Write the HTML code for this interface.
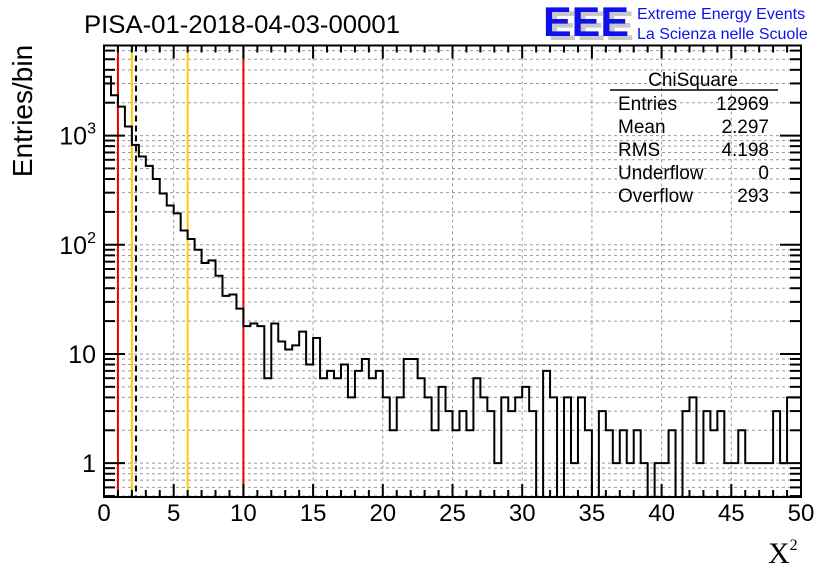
<!DOCTYPE html>
<html><head><meta charset="utf-8"><style>
body{margin:0;background:#fff}
svg{display:block;font-family:"Liberation Sans",Arial,sans-serif}
</style></head><body>
<svg id="c" width="836" height="572" viewBox="0 0 836 572">
<text x="84" y="33" font-size="25" textLength="316" lengthAdjust="spacingAndGlyphs">PISA-01-2018-04-03-00001</text>
<g>
<text x="548" y="40" font-size="42" font-weight="bold" fill="#c8c8c8" textLength="86" lengthAdjust="spacingAndGlyphs">EEE</text>
<text x="543" y="36" font-size="42" font-weight="bold" fill="#1010ee" textLength="86" lengthAdjust="spacingAndGlyphs">EEE</text>
<text x="637" y="19" font-size="16" fill="#1010ee">Extreme Energy Events</text>
<text x="637" y="39" font-size="16" fill="#1010ee">La Scienza nelle Scuole</text>
</g>
<text transform="translate(32,111) rotate(-90)" text-anchor="middle" font-size="28">Entries/bin</text>
<text x="768" y="563" font-size="30" font-family="Liberation Serif,serif">X<tspan font-size="16" dy="-13">2</tspan></text>
<g id="grid"></g><g id="lines"></g><g id="hist"></g><g id="axes"></g>
<g font-size="19">
<text x="693" y="86" text-anchor="middle">ChiSquare</text>
<line x1="610" y1="90" x2="778" y2="90" stroke="#000" stroke-width="1.5"/>
<text x="618" y="110">Entries</text><text x="769" y="110" text-anchor="end">12969</text>
<text x="618" y="133">Mean</text><text x="769" y="133" text-anchor="end">2.297</text>
<text x="618" y="156">RMS</text><text x="769" y="156" text-anchor="end">4.198</text>
<text x="618" y="179">Underflow</text><text x="769" y="179" text-anchor="end">0</text>
<text x="618" y="202">Overflow</text><text x="769" y="202" text-anchor="end">293</text>
</g>
</svg>
<script>
const counts=[3460,2340,1840,1210,822,643,528,400,295,229,194,135,113,90,68,72,52,34,35,26,
18,19,18,6,19,13,11,12,16,8,14,6,7,6,8,4,7,9,6,7,
4,2,4,9,9,6,4,2,5,3,2,3,2,6,4,3,1,4,3,4,
5,3,0,7,4,0,4,1,4,2,0,3,2,1,2,1,2,1,0,1,
1,2,0,3,4,1,3,2,3,1,1,2,1,1,1,1,3,1,4,4];
const xTicks=[0,5,10,15,20,25,30,35,40,45,50];
const refLines=[1,2,6,10];
const refColors=["#ee0000","#ffcc00","#ffcc00","#ee0000"];
const meanValue=2.297;
const binWidth=0.5;
const X0=104,X1=801,Y0=45.5,Y1=497;
const xmin=0,xmax=50,ymin=0.49,ymax=6680;
const sx=v=>X0+(v-xmin)/(xmax-xmin)*(X1-X0);
const sy=v=>{if(v<=ymin)return Y1;const l=Math.log10;return Y1-(l(v)-l(ymin))/(l(ymax)-l(ymin))*(Y1-Y0);};
const NS="http://www.w3.org/2000/svg";
function mk(t,a,p){const e=document.createElementNS(NS,t);for(const k in a)e.setAttribute(k,a[k]);p.appendChild(e);return e;}
const grid=document.getElementById('grid'),lines=document.getElementById('lines'),hist=document.getElementById('hist'),axes=document.getElementById('axes');
for(const t of xTicks){if(t===xmin||t===xmax)continue;
const g=mk('line',{x1:sx(t),x2:sx(t),y1:Y0,y2:Y1,stroke:'#999','stroke-width':1,'stroke-dasharray':'3,3'},grid);

}
for(let d=-1;d<=3;d++)for(let m=1;m<=9;m++){const v=m*Math.pow(10,d);if(v<ymin||v>ymax)continue;
const g=mk('line',{x1:X0,x2:X1,y1:sy(v),y2:sy(v),stroke:'#999','stroke-width':1,'stroke-dasharray':'3,3'},grid);

}
refLines.forEach((v,i)=>{const l=mk('line',{x1:sx(v),x2:sx(v),y1:Y0,y2:Y1,stroke:refColors[i],'stroke-width':2},lines);

});
const ml=mk('line',{x1:sx(meanValue),x2:sx(meanValue),y1:Y0,y2:Y1,stroke:'#000','stroke-width':2,'stroke-dasharray':'6,4'},lines);


let d='M'+sx(0)+','+sy(counts[0]);
counts.forEach((c,i)=>{const xa=sx(i*binWidth),xb=sx((i+1)*binWidth);d+=' L'+xa+','+sy(c)+' L'+xb+','+sy(c);});
const hp=mk('path',{d:d,fill:'none',stroke:'#000','stroke-width':2},hist);


const fr=mk('rect',{x:X0,y:Y0,width:X1-X0,height:Y1-Y0,fill:'none',stroke:'#000','stroke-width':2},axes);


for(let t=xmin;t<=xmax;t++){const maj=t%5===0,L=maj?13:7,x=sx(t);
mk('line',{x1:x,x2:x,y1:Y1,y2:Y1-L,stroke:'#000','stroke-width':2},axes);
mk('line',{x1:x,x2:x,y1:Y0,y2:Y0+L,stroke:'#000','stroke-width':2},axes);}
xTicks.forEach(t=>{const tx=mk('text',{x:sx(t),y:521,'text-anchor':'middle','font-size':24},axes);tx.textContent=t;

});
for(let dd=-1;dd<=3;dd++)for(let m=1;m<=9;m++){const v=m*Math.pow(10,dd);if(v<ymin||v>ymax)continue;
const L=m===1?21:11,y=sy(v);
mk('line',{x1:X0,x2:X0+L,y1:y,y2:y,stroke:'#000','stroke-width':2},axes);
mk('line',{x1:X1,x2:X1-L,y1:y,y2:y,stroke:'#000','stroke-width':2},axes);}
const yl=[[1,'1',''],[10,'10',''],[100,'10','2'],[1000,'10','3']];
yl.forEach(([v,b,s])=>{const tx=mk('text',{x:96,y:sy(v)+9,'text-anchor':'end','font-size':25},axes);
tx.textContent=b;if(s){const ts=mk('tspan',{'font-size':16,dy:-11},tx);ts.textContent=s;}

});
</script>
</body></html>
